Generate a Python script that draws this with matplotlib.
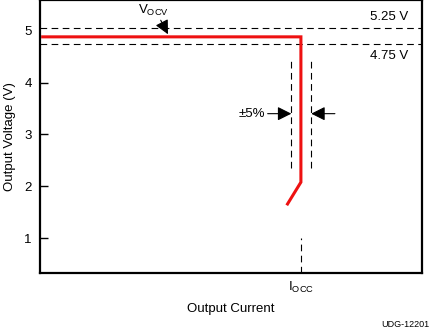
import numpy as np
import matplotlib.pyplot as plt

plt.rcParams['font.family'] = ['Liberation Sans', 'DejaVu Sans']
plt.rcParams['mathtext.default'] = 'regular'

# schematic values (normalized current, voltage)
current = [0.007, 0.683, 0.683, 0.648]
voltage = [4.88, 4.88, 2.08, 1.66]
v_upper = 5.05
v_lower = 4.74
i_occ = 0.683
band_left = 0.658
band_right = 0.710
band_v = [2.36, 4.42]
yticks = [1, 2, 3, 4, 5]

fig = plt.figure(figsize=(4.30, 3.32), dpi=100)
ax = fig.add_axes([40 / 430, 59 / 332, 382 / 430, 273 / 332])

ax.set_xlim(0, 1)
ax.set_ylim(0.33, 5.59)

dash = dict(color='black', lw=0.8, dashes=(6, 4))
ax.axhline(v_upper, **dash)
ax.axhline(v_lower, **dash)
ax.plot([band_left, band_left], band_v, **dash)
ax.plot([band_right, band_right], band_v, **dash)
ax.plot([i_occ, i_occ], [0.33, 1.0], **dash)

ax.plot(current, voltage, color='#ee1111', lw=2.2, solid_joinstyle='miter')

# +/-5% arrows
head = dict(arrowstyle='-|>,head_length=0.6,head_width=0.3', color='black',
            lw=0.8, mutation_scale=14, shrinkA=0, shrinkB=0)
ax.annotate('', xy=(band_left, 3.4), xytext=(band_left - 0.062, 3.4),
            arrowprops=head)
ax.annotate('', xy=(band_right, 3.4), xytext=(band_right + 0.062, 3.4),
            arrowprops=head)
ax.text(band_left - 0.068, 3.4, '±5%', ha='right', va='center', fontsize=9.5)

# VOCV label
ax.text(0.296, 5.39, '$V_{OCV}$', ha='center', va='center', fontsize=9.5)
ax.annotate('', xy=(0.335, 4.93), xytext=(0.316, 5.2), arrowprops=head)

ax.text(0.965, 5.27, '5.25 V', ha='right', va='center', fontsize=9.5)
ax.text(0.965, 4.52, '4.75 V', ha='right', va='center', fontsize=9.5)

ax.set_yticks(yticks)
ax.set_yticklabels([str(t) for t in yticks], fontsize=9.5)
ax.tick_params(axis='y', direction='in', length=6, width=1, pad=6)
ax.yaxis.get_major_ticks()[4].tick1line.set_visible(False)

ax.set_xticks([i_occ])
ax.set_xticklabels(['$I_{OCC}$'], fontsize=9.5)
ax.tick_params(axis='x', length=0, pad=5)

for s in ax.spines.values():
    s.set_linewidth(1.6)

ax.set_xlabel('Output Current', fontsize=9.5, labelpad=6)
ax.set_ylabel('Output Voltage (V)', fontsize=9.5, labelpad=6)

fig.text(0.998, 0.008, 'UDG-12201', ha='right', va='bottom', fontsize=6.5)

fig.savefig('out.png', dpi=100)
